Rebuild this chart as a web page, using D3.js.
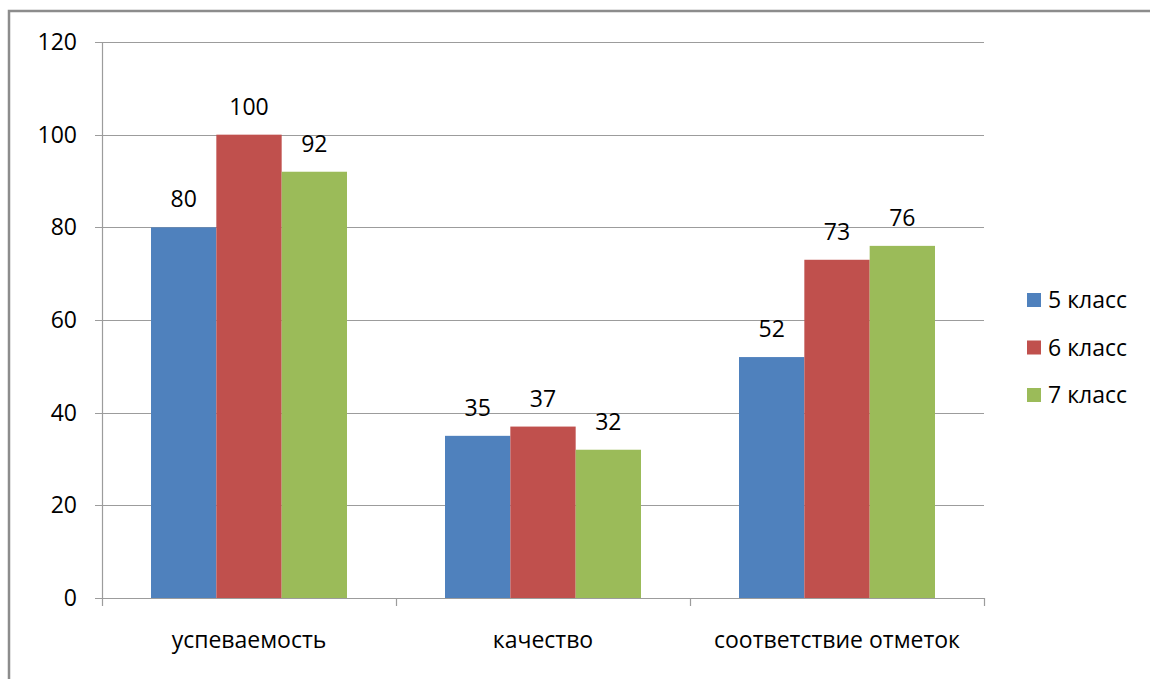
<!DOCTYPE html>
<html>
<head>
<meta charset="utf-8">
<script src="https://cdn.jsdelivr.net/npm/d3@7"></script>
<style>
  body { margin: 0; background: #fff; }
  svg { display: block; font-family: "Open Sans", sans-serif; }
</style>
</head>
<body>
<div id="viz"></div>
<script>
/* grouped bars: three classes over three indicators */

var categories = ['успеваемость', 'качество', 'соответствие отметок'],
    seriesNames = ['5 класс', '6 класс', '7 класс'],
    seriesColors = ['#4F81BD', '#C0504D', '#9BBB59'],
    class5 = [80, 35, 52],
    class6 = [100, 37, 73],
    class7 = [92, 32, 76],
    yTicks = [0, 20, 40, 60, 80, 100, 120];

var seriesValues = [class5, class6, class7];

var W = 1150, H = 679,
    margin = { top: 42, left: 102, right: 166, bottom: 81 },
    width = W - margin.left - margin.right,
    height = H - margin.top - margin.bottom;

var svg = d3.select('#viz').append('svg')
    .attr('width', W)
    .attr('height', H);

// frame (only top and left edges visible in the crop)
svg.append('path')
    .attr('d', 'M9,' + H + ' V11 H' + W)
    .attr('fill', 'none')
    .attr('stroke', '#8c8c8c')
    .attr('stroke-width', 2.5);

var g = svg.append('g')
    .attr('transform', 'translate(' + margin.left + ',' + margin.top + ')');

var x0 = d3.scaleBand()
    .domain(categories)
    .range([0, width])
    .paddingInner(0)
    .paddingOuter(0);

// excel gap width 150%: bars take 3/4.5 of the band
var x1 = d3.scaleBand()
    .domain(d3.range(seriesNames.length))
    .range([x0.bandwidth() / 6, x0.bandwidth() * 5 / 6]);

var y = d3.scaleLinear()
    .domain([0, 120])
    .range([height, 0]);

// gridlines
g.append('g')
  .selectAll('line')
  .data(yTicks)
  .enter().append('line')
    .attr('x1', -7)
    .attr('x2', width)
    .attr('y1', function(d) { return Math.round(y(d)) + 0.5; })
    .attr('y2', function(d) { return Math.round(y(d)) + 0.5; })
    .attr('stroke', '#9c9c9c')
    .attr('stroke-width', 1.2);

// y axis line
g.append('line')
    .attr('x1', 0.5).attr('x2', 0.5)
    .attr('y1', 0).attr('y2', height)
    .attr('stroke', '#9c9c9c')
    .attr('stroke-width', 1.2);

// y tick labels
g.append('g')
  .selectAll('text')
  .data(yTicks)
  .enter().append('text')
    .attr('x', -25)
    .attr('y', function(d) { return y(d); })
    .attr('dy', '0.35em')
    .attr('text-anchor', 'end')
    .attr('font-size', 23)
    .attr('fill', '#000')
    .text(function(d) { return d; });

// bars
var groups = g.append('g')
  .selectAll('g')
  .data(categories)
  .enter().append('g')
    .attr('transform', function(d) { return 'translate(' + x0(d) + ',0)'; });

groups.selectAll('rect')
  .data(function(d, i) {
    return seriesValues.map(function(s, k) { return { k: k, v: s[i] }; });
  })
  .enter().append('rect')
    .attr('x', function(d) { return x1(d.k); })
    .attr('width', x1.bandwidth())
    .attr('y', function(d) { return y(d.v); })
    .attr('height', function(d) { return height - y(d.v); })
    .attr('fill', function(d) { return seriesColors[d.k]; });

// value labels
groups.selectAll('text')
  .data(function(d, i) {
    return seriesValues.map(function(s, k) { return { k: k, v: s[i] }; });
  })
  .enter().append('text')
    .attr('x', function(d) { return x1(d.k) + x1.bandwidth() / 2; })
    .attr('y', function(d) { return y(d.v) - 20; })
    .attr('text-anchor', 'middle')
    .attr('font-size', 23)
    .attr('fill', '#000')
    .text(function(d) { return d.v; });

// x axis with ticks at band edges
var xAxis = g.append('g')
    .attr('transform', 'translate(0,' + height + ')');

xAxis.append('line')
    .attr('x1', 0).attr('x2', width)
    .attr('y1', 0.5).attr('y2', 0.5)
    .attr('stroke', '#9c9c9c')
    .attr('stroke-width', 1.2);

xAxis.selectAll('line.tick')
  .data(categories.map(function(c) { return x0(c); }).concat([width]))
  .enter().append('line')
    .attr('class', 'tick')
    .attr('x1', function(d) { return Math.round(d) + 0.5; })
    .attr('x2', function(d) { return Math.round(d) + 0.5; })
    .attr('y1', 0)
    .attr('y2', 8)
    .attr('stroke', '#9c9c9c')
    .attr('stroke-width', 1.2);

xAxis.selectAll('text')
  .data(categories)
  .enter().append('text')
    .attr('x', function(d) { return x0(d) + x0.bandwidth() / 2; })
    .attr('y', 50)
    .attr('text-anchor', 'middle')
    .attr('font-size', 23)
    .attr('fill', '#000')
    .text(function(d) { return d; });

// legend
var legend = svg.append('g')
  .selectAll('g')
  .data(seriesNames)
  .enter().append('g')
    .attr('transform', function(d, i) {
      return 'translate(1027,' + (300 + i * 47.5) + ')';
    });

legend.append('rect')
    .attr('x', 0)
    .attr('y', -7)
    .attr('width', 14)
    .attr('height', 14)
    .attr('fill', function(d, i) { return seriesColors[i]; });

legend.append('text')
    .attr('x', 21)
    .attr('y', 0)
    .attr('dy', '0.35em')
    .attr('font-size', 23)
    .attr('fill', '#000')
    .text(function(d) { return d; });
</script>
</body>
</html>
